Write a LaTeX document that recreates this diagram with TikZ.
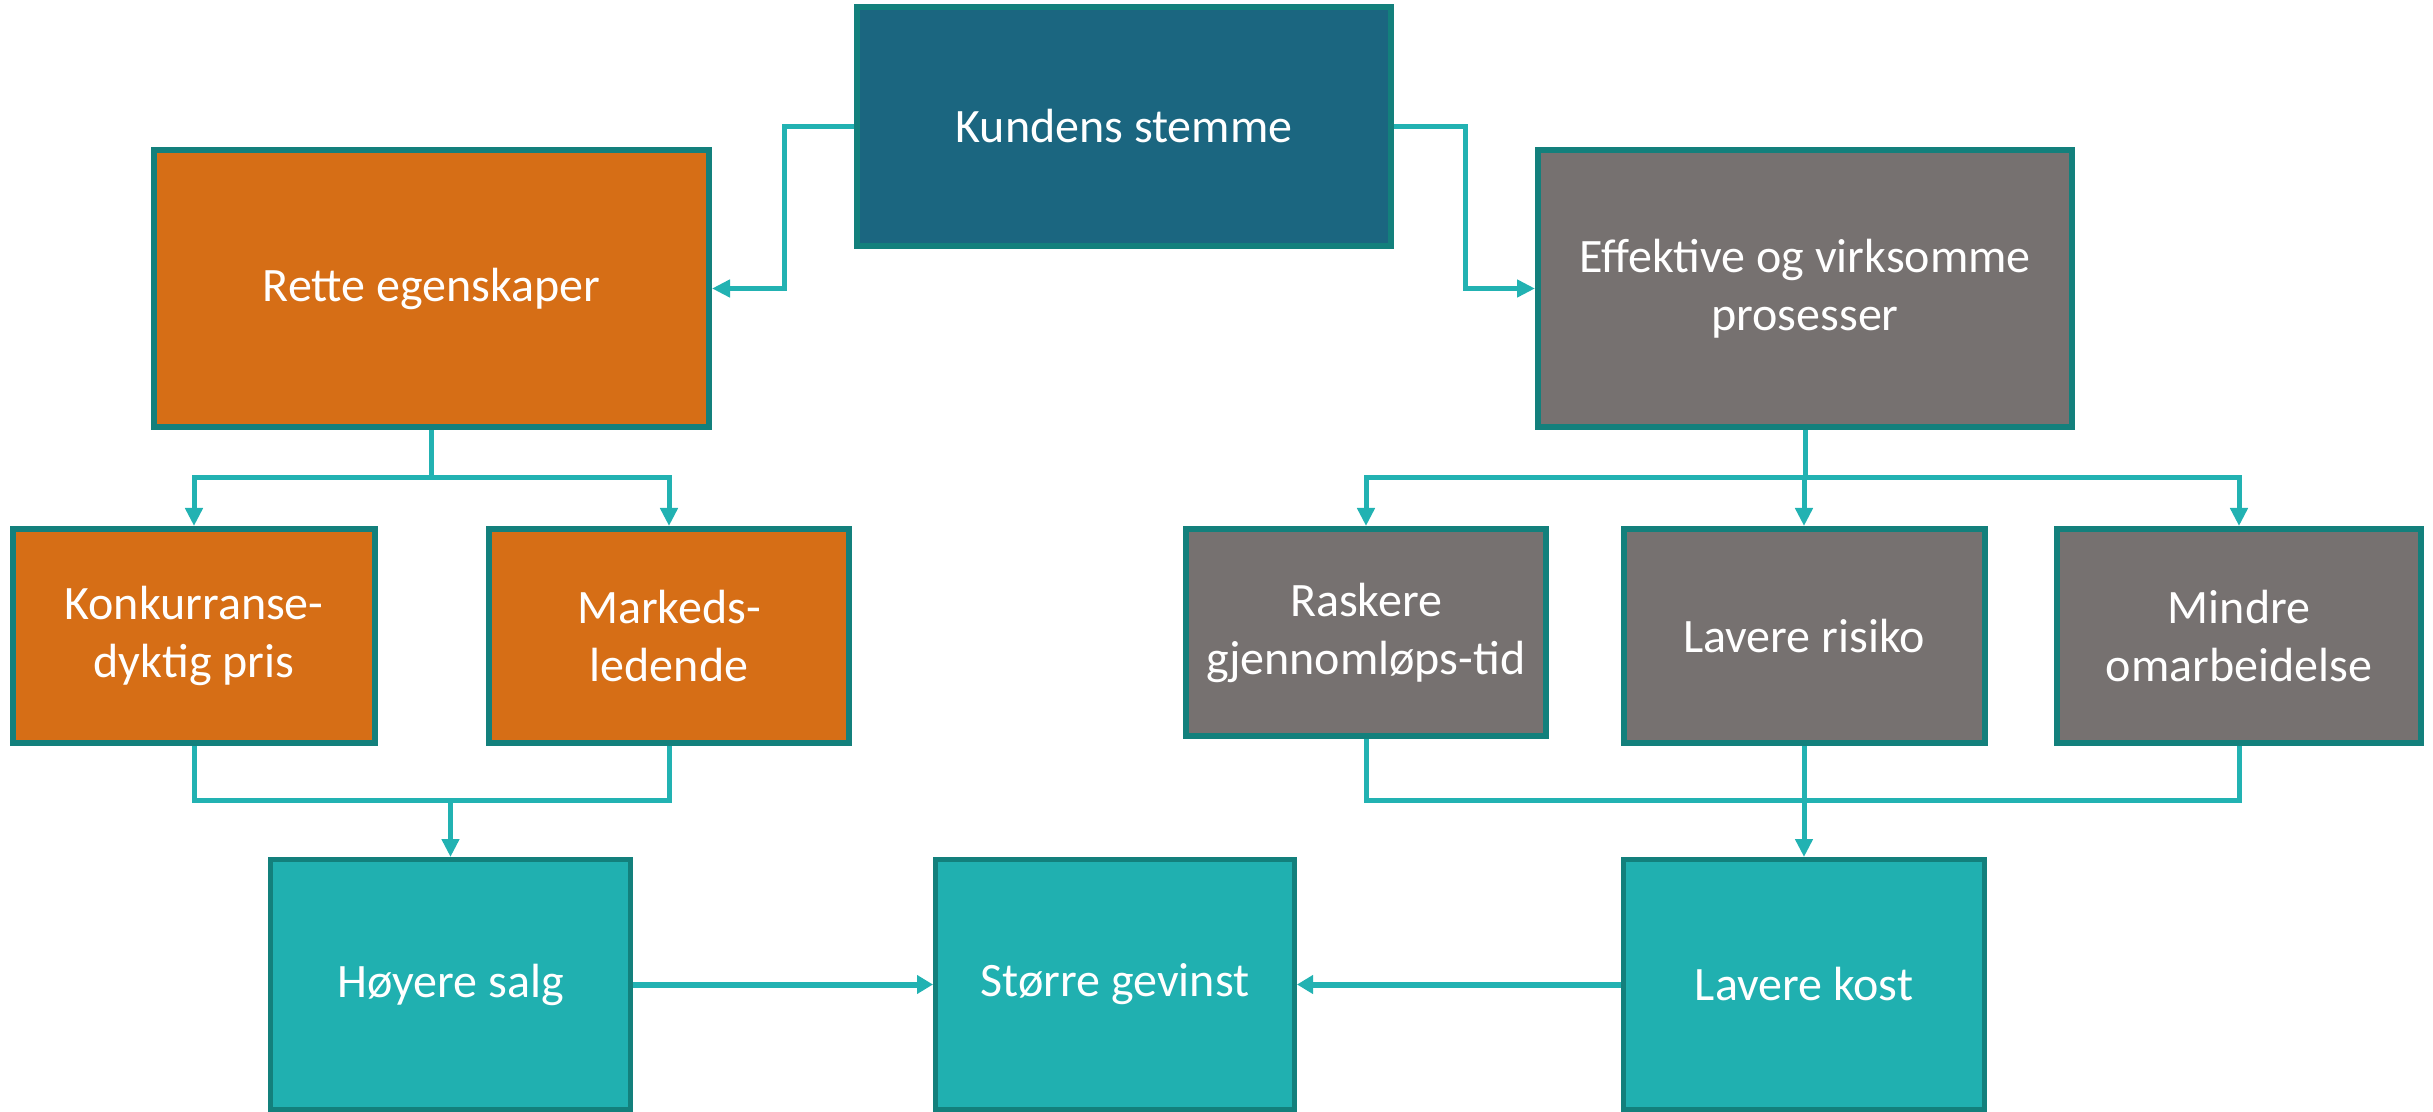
\documentclass[tikz,border=0pt]{standalone}
\usepackage{fontspec}
\setmainfont{Carlito}
\usetikzlibrary{arrows.meta}
\definecolor{bordc}{RGB}{19,128,124}
\definecolor{darkblue}{RGB}{27,102,128}
\definecolor{orangec}{RGB}{214,110,22}
\definecolor{grayc}{RGB}{118,113,112}
\definecolor{tealc}{RGB}{32,176,176}
\definecolor{connc}{RGB}{34,178,178}
\begin{document}
\begin{tikzpicture}[x=0.5pt,y=-0.5pt,
  box/.style={draw=bordc, line width=3pt, text=white, align=center,
    font=\fontsize{24}{29}\selectfont, inner sep=0pt},
  botbox/.style={box, line width=2.5pt, fill=tealc},
  conn/.style={draw=connc, line width=2.5pt},
  arr/.style={conn, -{Triangle[length=9pt,width=8.5pt]}},
  harr/.style={conn, line width=3pt, -{Triangle[length=8pt,width=9pt]}}]
\useasboundingbox (0,0) rectangle (2433,1112);

\node[box, fill=darkblue, minimum width=267pt, minimum height=119.5pt] (ks) at (1124,126.5) {Kundens stemme};
\node[box, fill=orangec, minimum width=277.5pt, minimum height=138.5pt] (re) at (431.5,288.5) {Rette egenskaper};
\node[box, fill=grayc, minimum width=267pt, minimum height=138.5pt] (ef) at (1805,288.5) {Effektive og virksomme\\prosesser};

\node[box, fill=orangec, minimum width=181pt, minimum height=107pt] (kp) at (194,636) {Konkurranse-\\dyktig pris};
\node[box, fill=orangec, minimum width=180pt, minimum height=107pt] (ml) at (669,636) {Markeds-\\ledende};
\node[box, fill=grayc, minimum width=180pt, minimum height=103.5pt] (rt) at (1366,632.5) {Raskere\\gjennomløps-tid};
\node[box, fill=grayc, minimum width=180.5pt, minimum height=107pt] (lr) at (1804,636) {Lavere risiko};
\node[box, fill=grayc, minimum width=182pt, minimum height=107pt] (mo) at (2239,636) {Mindre\\omarbeidelse};

\node[botbox, minimum width=180pt, minimum height=125pt] (hs) at (450.5,984.5) {Høyere salg};
\node[botbox, minimum width=179.5pt, minimum height=125pt] (sg) at (1115,984.5) {Større gevinst};
\node[botbox, minimum width=180.5pt, minimum height=125pt] (lk) at (1804,984.5) {Lavere kost};

% top connectors
\draw[arr] (ks.west) -- ++(-70,0) |- (re.east);
\draw[arr] (ks.east) -- ++(71,0) |- (ef.west);

\coordinate (j1) at (431.5,478);
\draw[conn] (re.south) -- (j1);
\draw[arr] (j1) -| (kp.north);
\draw[arr] (j1) -| (ml.north);

\coordinate (j2) at (1805,478);
\draw[conn] (ef.south) -- (j2);
\draw[arr] (j2) -| (rt.north);
\draw[arr] (j2) -| (lr.north);
\draw[arr] (j2) -| (mo.north);

% merge connectors
\coordinate (m1) at (450.5,800);
\draw[conn] (kp.south) |- (m1) -| (ml.south);
\draw[arr] (m1) -- (hs.north);

\coordinate (m2) at (1804,800);
\draw[conn] (rt.south) |- (m2) -| (mo.south);
\draw[conn] (lr.south) -- (m2);
\draw[arr] (m2) -- (lk.north);

% bottom arrows
\draw[harr] (hs.east) -- (sg.west);
\draw[harr] (lk.west) -- (sg.east);
\end{tikzpicture}
\end{document}
